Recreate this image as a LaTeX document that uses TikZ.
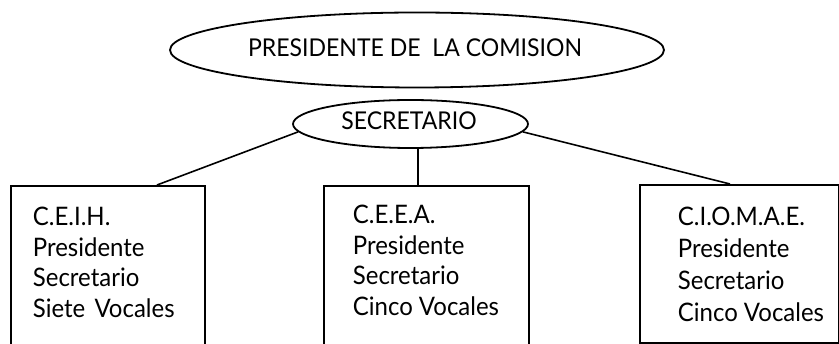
\documentclass[tikz,border=0pt]{standalone}
\usepackage{fontspec}
\setmainfont{Lato}[FakeStretch=0.94]
\usetikzlibrary{shapes.geometric,calc}
\begin{document}
\begin{tikzpicture}[x=1pt,y=-1pt,line width=1.8pt,
  oval/.style={draw,ellipse,inner sep=0pt},
  unit/.style={draw,rectangle,inner sep=0pt,anchor=north west},
  head/.style={inner sep=0pt,font=\fontsize{24.5}{30}\selectfont},
  label/.style={inner sep=0pt,anchor=north west,align=left,font=\fontsize{25.5}{30.5}\selectfont},
  link/.style={line width=1.6pt}]
\useasboundingbox (0,0) rectangle (839,344);
% ellipses
\node[oval,minimum width=494pt,minimum height=75pt] (pres) at (417,50) {};
\node[head] (prest) at (415,48) {PRESIDENTE DE\ \ LA COMISION};
\node[oval,minimum width=235pt,minimum height=48pt] (sec) at (410.5,124) {};
\node[head] (sect) at (409,120.5) {SECRETARIO};
% boxes
\node[unit,minimum width=194pt,minimum height=180pt] (b1) at (10,185) {};
\node[unit,minimum width=205pt,minimum height=180pt] (b2) at (323,185) {};
\node[unit,minimum width=199pt,minimum height=158pt] (b3) at (639,184) {};
% box texts
\node[label] (t1) at (32,206.5) {C.E.I.H.\\Presidente\\Secretario\\Siete\hspace{0.12em} Vocales};
\node[label] (t2) at (352,204.5) {C.E.E.A.\\Presidente\\Secretario\\Cinco Vocales};
\node[label,font=\fontsize{25.5}{32}\selectfont] (t3) at (677,206.5) {C.I.O.M.A.E.\\Presidente\\Secretario\\Cinco Vocales};
% connectors
\coordinate (c1) at (157,185);
\coordinate (c2) at (418,185);
\coordinate (c3) at (730,184);
\draw[link] (sec.184) -- (c1);
\draw[link] (c2 |- sec.south) -- (c2);
\draw[link] (sec.356) -- (c3);
\end{tikzpicture}
\end{document}
